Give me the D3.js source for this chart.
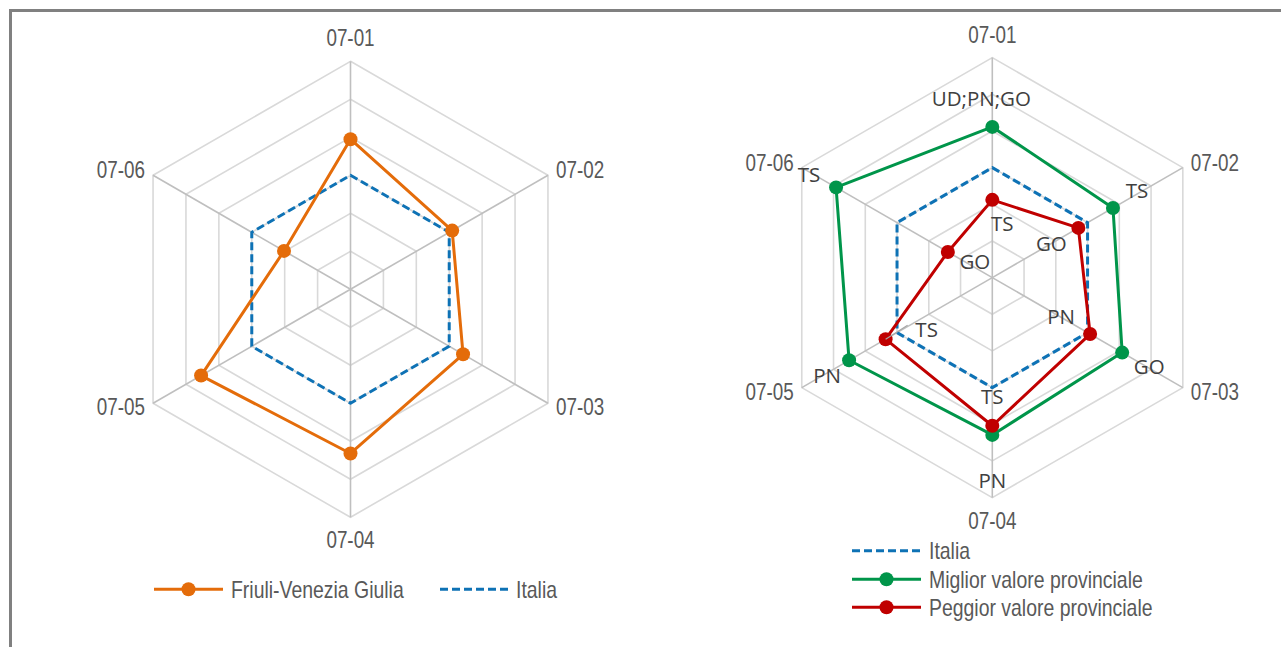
<!DOCTYPE html>
<html>
<head>
<meta charset="utf-8">
<script src="https://cdn.jsdelivr.net/npm/d3@7"></script>
<style>
  html, body { margin: 0; padding: 0; background: #fff; }
  svg { display: block; }
</style>
</head>
<body>
<svg id="chart" width="1281" height="647"></svg>
<script>
// ---------------- DATA ----------------
const axes = ["07-01", "07-02", "07-03", "07-04", "07-05", "07-06"];
const ringTicks = [1, 2, 3, 4, 5, 6];
const italia = [3, 3, 3, 3, 3, 3];
const friuli = [3.95, 3.09, 3.42, 4.32, 4.54, 2.02];
const migliore = [4.11, 3.80, 4.09, 4.29, 4.51, 4.92];
const peggiore = [2.12, 2.71, 3.08, 4.04, 3.36, 1.40];
const migliorLabels = ["UD;PN;GO", "TS", "GO", "PN", "PN", "TS"];
const peggiorLabels = ["TS", "GO", "PN", "TS", "TS", "GO"];
const legendLeft = ["Friuli-Venezia Giulia", "Italia"];
const legendRight = ["Italia", "Miglior valore provinciale", "Peggior valore provinciale"];

// ---------------- STYLE ----------------
const C = {
  orange: "#E46C0A",
  blue: "#0E72B5",
  green: "#00954A",
  red: "#C00000",
  ring: "#D9D9D9",
  spoke: "#BFBFBF",
  axisText: "#595959",
  dataText: "#404040",
  border: "#808080"
};
const narrow = "'Liberation Sans', Arial, sans-serif";
const labelFont = "'Open Sans', 'Noto Sans', sans-serif";

const svg = d3.select("#chart");

// border (top and left)
svg.append("rect").attr("x", 9).attr("y", 9).attr("width", 1272).attr("height", 3).attr("fill", C.border);
svg.append("rect").attr("x", 9).attr("y", 9).attr("width", 3).attr("height", 638).attr("fill", C.border);

// condensed text helper
function narrowText(parent, x, y, anchor, txt, fill, sx) {
  return parent.append("text")
    .attr("transform", `translate(${x},${y}) scale(${sx},1)`)
    .attr("text-anchor", anchor)
    .attr("font-family", narrow).attr("font-size", 23).attr("fill", fill).text(txt);
}

const angle = d3.scaleLinear().domain([0, axes.length]).range([0, 2 * Math.PI]);

function radar(cx, cy, R) {
  const g = svg.append("g").attr("transform", `translate(${cx},${cy})`);
  const r = d3.scaleLinear().domain([0, 6]).range([0, R]);
  const pt = (i, v) => [r(v) * Math.sin(angle(i)), -r(v) * Math.cos(angle(i))];

  const ringLine = d3.lineRadial().angle((d, i) => angle(i)).radius(d => r(d)).curve(d3.curveLinearClosed);
  ringTicks.forEach(t => {
    g.append("path").attr("d", ringLine(axes.map(() => t)))
      .attr("fill", "none").attr("stroke", C.ring).attr("stroke-width", 1.6);
  });
  axes.forEach((a, i) => {
    const [x, y] = pt(i, 6);
    g.append("line").attr("x1", 0).attr("y1", 0).attr("x2", x).attr("y2", y)
      .attr("stroke", C.spoke).attr("stroke-width", 1.6);
  });
  axes.forEach((a, i) => {
    const [x, y] = pt(i, 6);
    let tx = x, ty = y, anchor = "middle";
    if (i === 0) { ty = y - 15; }
    else if (i === 3) { ty = y + 31; }
    else if (i === 1 || i === 2) { tx = x + 8; anchor = "start"; ty = y + (i === 1 ? 3 : 12); }
    else { tx = x - 8; anchor = "end"; ty = y + (i === 5 ? 3 : 12); }
    narrowText(g, tx, ty, anchor, a, C.axisText, 0.82);
  });

  function series(values, color, opts) {
    const line = d3.lineRadial().angle((d, i) => angle(i)).radius(d => r(d)).curve(d3.curveLinearClosed);
    const p = g.append("path").attr("d", line(values)).attr("fill", "none")
      .attr("stroke", color).attr("stroke-width", 3).attr("stroke-linejoin", "round");
    if (opts && opts.dash) p.attr("stroke-dasharray", opts.dash);
    if (opts && opts.markers) {
      values.forEach((v, i) => {
        const [x, y] = pt(i, v);
        g.append("circle").attr("cx", x).attr("cy", y).attr("r", 7).attr("fill", color);
      });
    }
  }
  return { g, pt, series, r };
}

// ---------------- LEFT CHART ----------------
const L = radar(350.5, 289.3, 228);
L.series(italia, C.blue, { dash: "8,4" });
L.series(friuli, C.orange, { markers: true });

// ---------------- RIGHT CHART ----------------
const Rr = radar(992.3, 277.6, 220);
Rr.series(italia, C.blue, { dash: "8,4" });
Rr.series(migliore, C.green, { markers: true });
Rr.series(peggiore, C.red, { markers: true });

const greenOff = [[-11, -29], [24, -18], [27, 13], [0, 45], [-22, 15], [-27, -13]];
const redOff = [[10, 23], [-27, 15], [-29, -18], [0, -30], [41, -10], [27, 9]];

{
  const [x, y] = Rr.pt(4, peggiore[4]);
  Rr.g.append("line").attr("x1", x).attr("y1", y).attr("x2", x + 22).attr("y2", y - 14)
    .attr("stroke", "#A6A6A6").attr("stroke-width", 1.2);
}
function dataLabels(values, labels, offs) {
  values.forEach((v, i) => {
    const [x, y] = Rr.pt(i, v);
    Rr.g.append("text").attr("x", x + offs[i][0]).attr("y", y + offs[i][1])
      .attr("text-anchor", "middle").attr("dominant-baseline", "central")
      .attr("font-family", labelFont).attr("font-size", 20.5).attr("fill", C.dataText)
      .text(labels[i]);
  });
}
dataLabels(migliore, migliorLabels, greenOff);
dataLabels(peggiore, peggiorLabels, redOff);

// ---------------- LEGENDS ----------------
function legendItem(x1, x2, y, color, text, opts) {
  const l = svg.append("line").attr("x1", x1).attr("x2", x2).attr("y1", y).attr("y2", y)
    .attr("stroke", color).attr("stroke-width", 3);
  if (opts.dash) l.attr("stroke-dasharray", opts.dash);
  if (opts.marker) svg.append("circle").attr("cx", (x1 + x2) / 2).attr("cy", y).attr("r", 7).attr("fill", color);
  narrowText(svg, x2 + 8, y + 8.5, "start", text, C.axisText, 0.845);
}
legendItem(154, 223, 589.3, C.orange, legendLeft[0], { marker: true });
legendItem(440, 508, 589.3, C.blue, legendLeft[1], { dash: "8,4" });

legendItem(852, 921, 550.7, C.blue, legendRight[0], { dash: "8,4" });
legendItem(852, 921, 579.3, C.green, legendRight[1], { marker: true });
legendItem(852, 921, 607.3, C.red, legendRight[2], { marker: true });
</script>
</body>
</html>
